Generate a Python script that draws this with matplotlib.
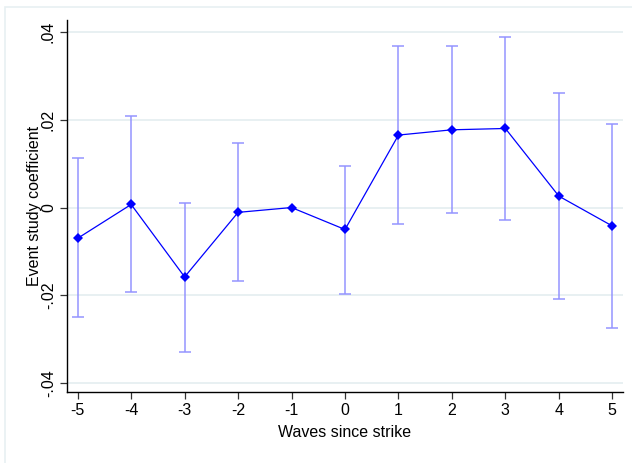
import numpy as np
import matplotlib
matplotlib.use('Agg')
import matplotlib.pyplot as plt
from matplotlib.patches import Rectangle

matplotlib.rcParams['font.family'] = 'Liberation Sans'

# data
waves = [-5, -4, -3, -2, -1, 0, 1, 2, 3, 4, 5]
coef = [-0.0070, 0.0007, -0.0158, -0.0011, 0.0, -0.0050,
        0.0165, 0.0177, 0.0180, 0.0026, -0.0042]
ci_hi = [0.0112, 0.0208, 0.0010, 0.0146, np.nan, 0.0095,
         0.0367, 0.0367, 0.0389, 0.0261, 0.0191]
ci_lo = [-0.0250, -0.0193, -0.0328, -0.0168, np.nan, -0.0196,
         -0.0038, -0.0013, -0.0028, -0.0209, -0.0275]
ytick_vals = [-0.04, -0.02, 0, 0.02, 0.04]
ytick_labels = ['-.04', '-.02', '0', '.02', '.04']

fontsize = 11.5
grid_col = '#e8f0f2'

fig = plt.figure(figsize=(6.32, 4.63), dpi=100)
fig.patch.set_facecolor('white')
# light outer frame (stata graph region)
fig.patches.append(Rectangle((5 / 632, -0.1), 1.2, 1.1 - 7 / 463,
                             transform=fig.transFigure, fill=False,
                             edgecolor=grid_col, lw=1.2))

ax = fig.add_axes([67 / 632, 1 - 392 / 463, (623 - 67) / 632, (392 - 20) / 463])

lo = np.array(ci_lo)
hi = np.array(ci_hi)
c = np.array(coef)
mask = ~np.isnan(lo)
ax.errorbar(np.array(waves)[mask], c[mask],
            yerr=[c[mask] - lo[mask], hi[mask] - c[mask]],
            fmt='none', ecolor='#9494ff', elinewidth=1.1, capsize=4.5, capthick=1.1,
            zorder=2)
ax.plot(waves, coef, color='#0000ff', lw=0.9, marker='D', markersize=5,
        markeredgewidth=0, zorder=3)

ax.set_xlim(-5.2, 5.2)
ax.set_ylim(-0.042, 0.0427)
ax.set_xticks(waves)
ax.set_xticklabels([str(w) for w in waves], fontsize=fontsize)
ax.set_yticks(ytick_vals)
ax.set_yticklabels(ytick_labels, fontsize=fontsize, rotation=90, va='center')
for v in ytick_vals:
    ax.axhline(v, color=grid_col, lw=1.4, zorder=1)

for s in ['top', 'right']:
    ax.spines[s].set_visible(False)
for s in ['left', 'bottom']:
    ax.spines[s].set_linewidth(1.0)
    ax.spines[s].set_color('black')
ax.tick_params(axis='both', length=5, width=0.9, color='#333333', pad=3)

ax.set_xlabel('Waves since strike', fontsize=fontsize, labelpad=5)
ax.set_ylabel('Event study coefficient', fontsize=fontsize, labelpad=-1)

plt.savefig('out.png', dpi=100)
